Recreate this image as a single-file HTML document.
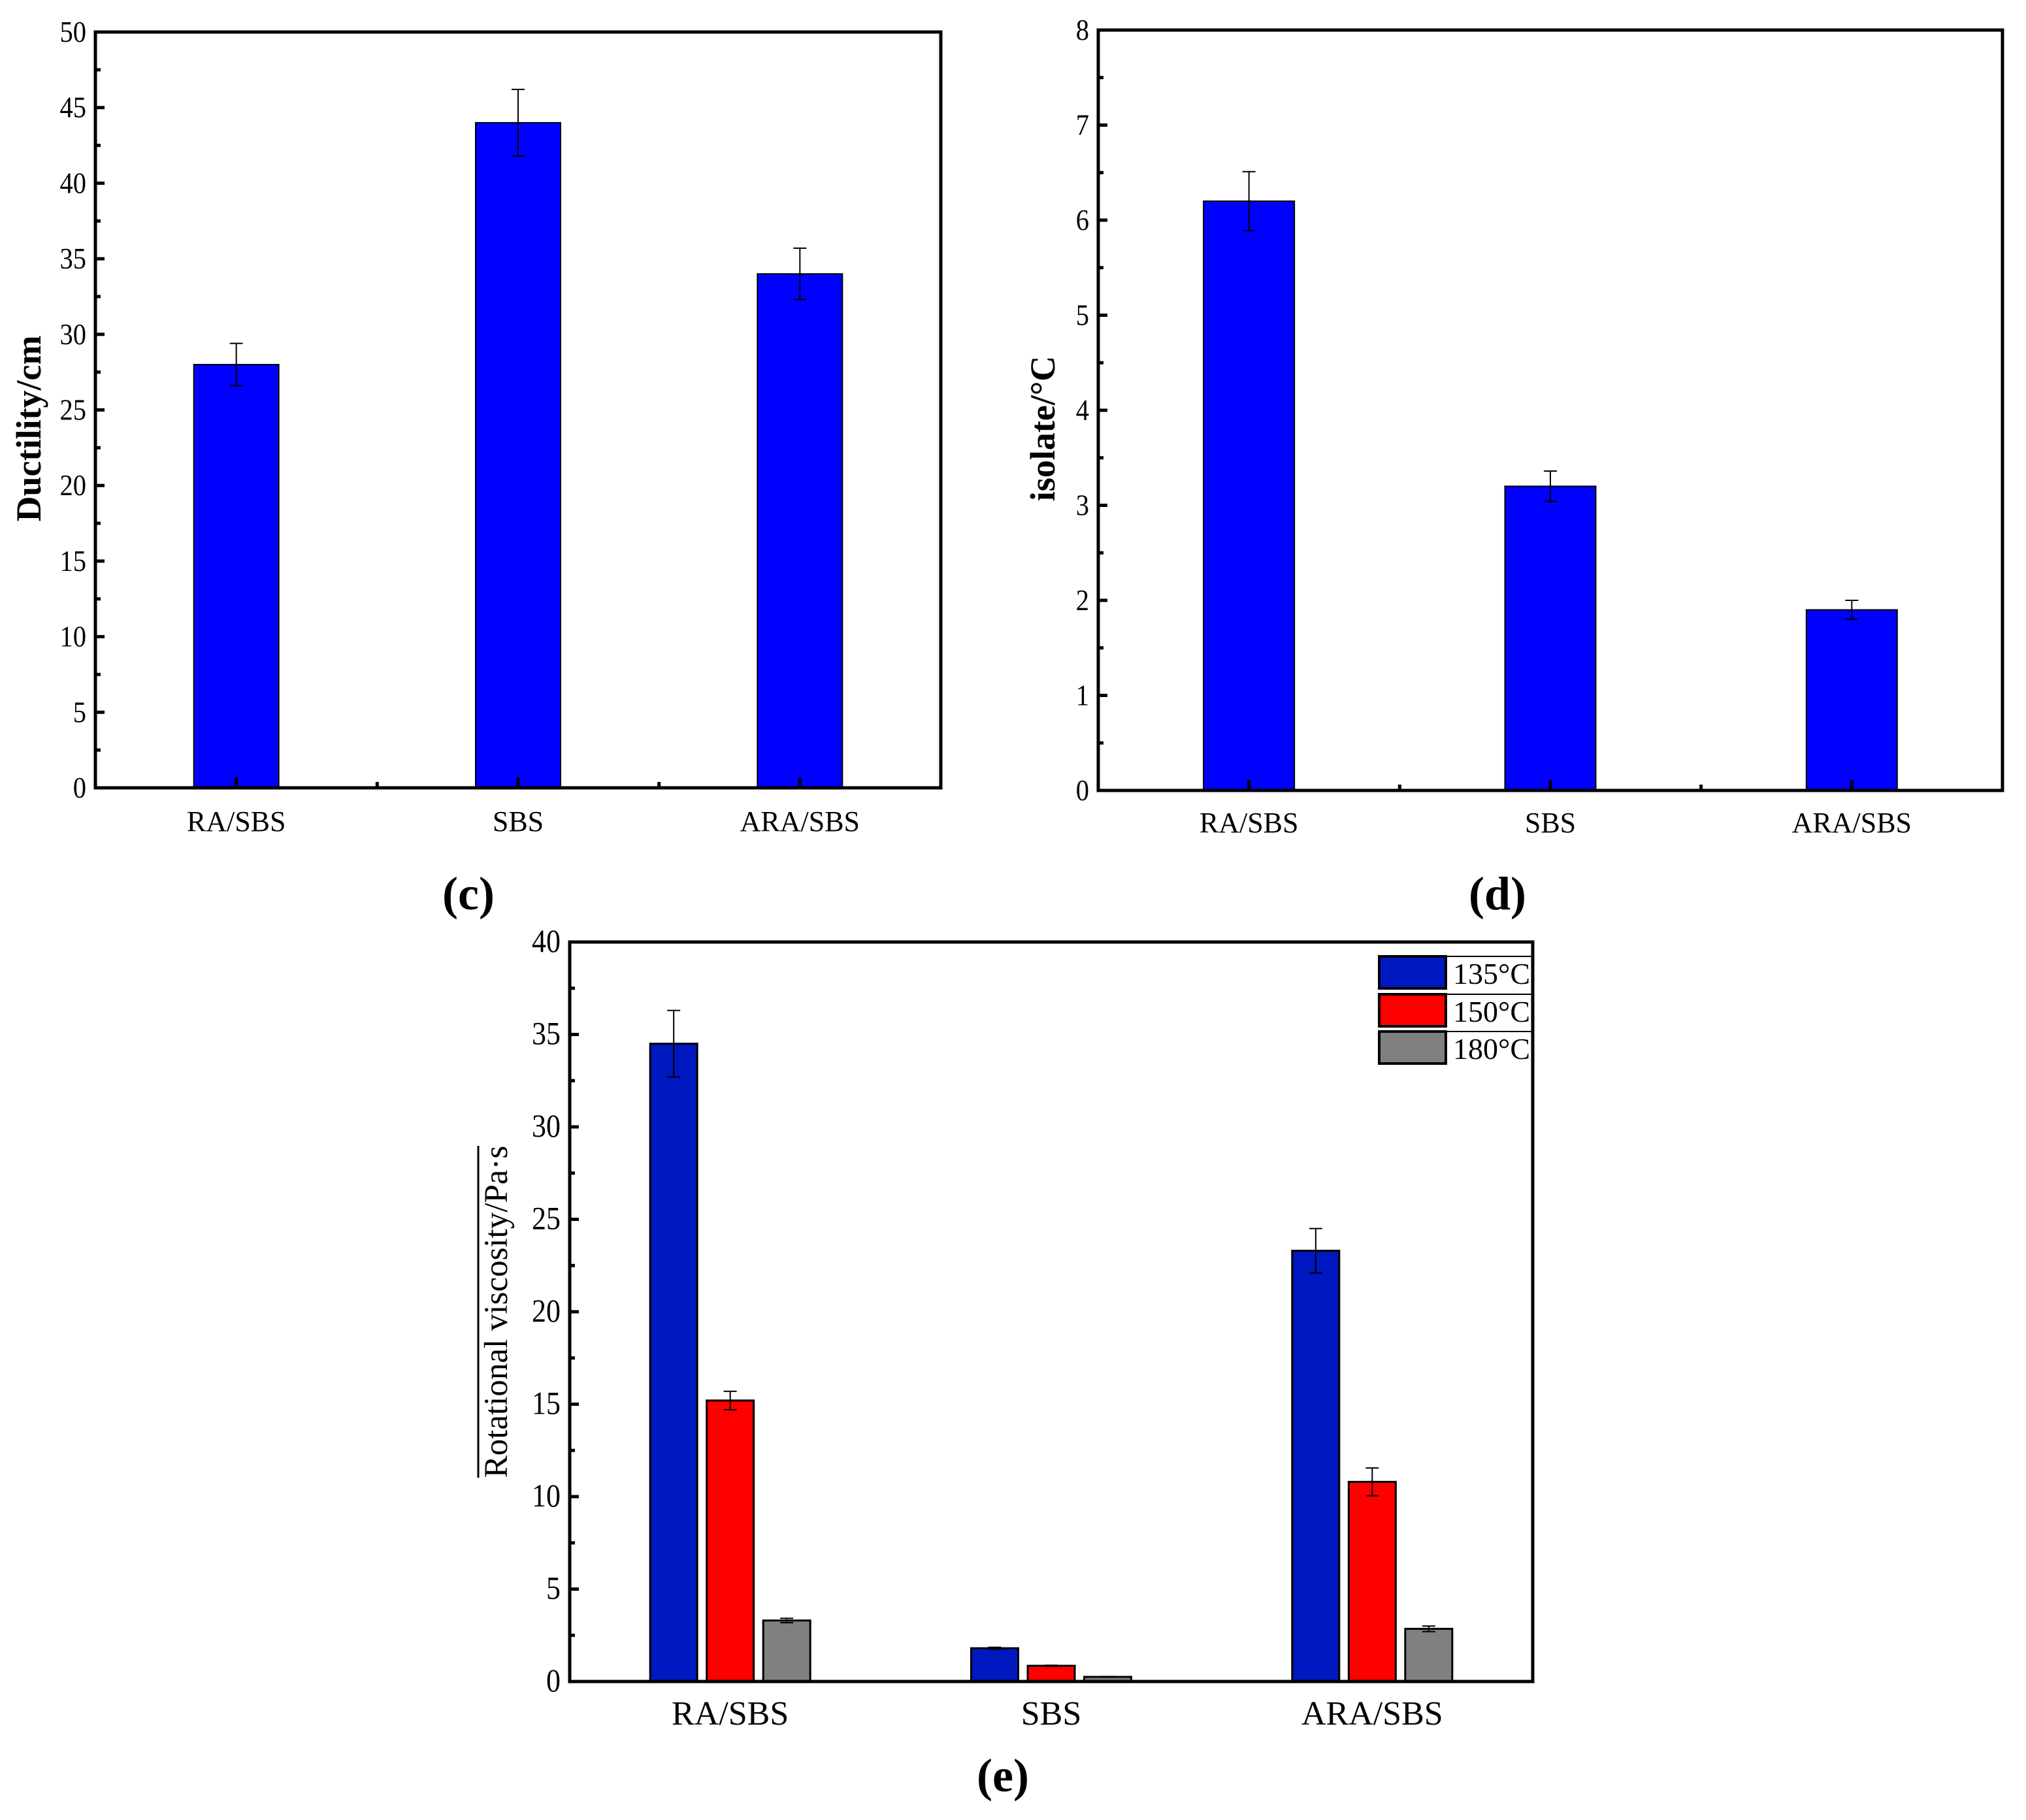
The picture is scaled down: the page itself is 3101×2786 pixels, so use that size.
<!DOCTYPE html>
<html><head><meta charset="utf-8"><style>
html,body{margin:0;padding:0;background:#fff;}
svg{display:block;font-family:"Liberation Serif",serif;}
</style></head><body>
<svg id="fig" width="3101" height="2786" viewBox="0 0 3101 2786" xmlns="http://www.w3.org/2000/svg"></svg>
<script>
const categories = ["RA/SBS","SBS","ARA/SBS"];
const ductilityValues = [28, 44, 34];
const ductilityErrors = [1.4, 2.2, 1.7];
const ductilityTicks = [0,5,10,15,20,25,30,35,40,45,50];
const isolateValues = [6.2, 3.2, 1.9];
const isolateErrors = [0.31, 0.16, 0.1];
const isolateTicks = [0,1,2,3,4,5,6,7,8];
const seriesNames = ["135°C","150°C","180°C"];
const visc135 = [34.5, 1.8, 23.3];
const visc150 = [15.2, 0.85, 10.8];
const visc180 = [3.3, 0.25, 2.85];
const err135 = [1.8, 0.05, 1.2];
const err150 = [0.5, 0.03, 0.75];
const err180 = [0.12, 0.02, 0.15];
const viscTicks = [0,5,10,15,20,25,30,35,40];

const NS="http://www.w3.org/2000/svg";
const svg=document.getElementById('fig');
function mk(tag,attrs,parent){const e=document.createElementNS(NS,tag);for(const k in attrs)e.setAttribute(k,attrs[k]);(parent||svg).appendChild(e);return e;}

function panel(o){
  const g=mk('g',{});
  
  
  const ymax=o.ticks[o.ticks.length-1];
  const ys=v=>o.y1-(v/ymax)*(o.y1-o.y0);
  const step=(o.x1-o.x0)/categories.length;
  const xs=i=>o.x0+step*(i+0.5);
  o.ticks.forEach((t,i)=>{
    const y=ys(t);
    const tk=mk('line',{x1:o.x0,x2:o.x0+14,y1:y,y2:y,stroke:'#000','stroke-width':5},g);
    
    
    const lb=mk('text',{x:o.x0-14,y:y+15,'text-anchor':'end','font-size':o.fs||46,'transform':`translate(${(o.x0-14)*0.12},0) scale(0.88,1)`},g);
    lb.textContent=t;
    
    
    if(i<o.ticks.length-1){
      const ym=ys((t+o.ticks[i+1])/2);
      const mt=mk('line',{x1:o.x0,x2:o.x0+8,y1:ym,y2:ym,stroke:'#000','stroke-width':5},g);
      
      
    }
  });
  o.series.forEach((s,si)=>{
    const n=o.series.length;
    s.vals.forEach((v,i)=>{
      const cx=xs(i)+(si-(n-1)/2)*o.bstep;
      const y=ys(v);
      const r=mk('rect',{x:cx-o.bw/2,y:y,width:o.bw,height:o.y1-y,fill:s.color,stroke:'#000','stroke-width':o.bstroke},g);
      
      
      const e=s.errs[i];
      const eg=mk('path',{d:`M${cx},${ys(v+e)}V${ys(v-e)}M${cx-10},${ys(v+e)}H${cx+10}M${cx-10},${ys(v-e)}H${cx+10}`,stroke:'#000','stroke-width':2,fill:'none'},g);
      
      
    });
  });
  const fr=mk('rect',{x:o.x0,y:o.y0,width:o.x1-o.x0,height:o.y1-o.y0,fill:'none',stroke:'#000','stroke-width':5},g);
  
  
  categories.forEach((c,i)=>{
    const x=xs(i);
    if(o.xticks){
      const t=mk('line',{x1:x,x2:x,y1:o.y1,y2:o.y1-16,stroke:'#000','stroke-width':5},g);
      
      
      if(i>0){const m=mk('line',{x1:o.x0+step*i,x2:o.x0+step*i,y1:o.y1,y2:o.y1-9,stroke:'#000','stroke-width':5},g);
        
        }
    }
    const lb=mk('text',{x:x,y:o.xly,'text-anchor':'middle','font-size':o.xfs||44},g);
    lb.textContent=c;
    
    
  });
  const yt=mk('text',{x:0,y:0,'text-anchor':'middle','font-size':o.tfs||56,'font-weight':o.tbold?'bold':'normal',transform:`translate(${o.tx},${o.ty}) rotate(-90)`},g);
  yt.textContent=o.title;
  
  
  const pl=mk('text',{x:o.px,y:o.py,'text-anchor':'middle','font-size':72,'font-weight':'bold'},g);
  pl.textContent=o.plabel;
  
  
  return {g,ys,xs};
}

panel({name:'ductility-chart',x0:146,x1:1440,y0:49,y1:1206,ticks:ductilityTicks,
  series:[{key:'d',vals:ductilityValues,errs:ductilityErrors,color:'#0000ff'}],bw:130,bstep:0,bstroke:2,
  xticks:true,xly:1272,title:'Ductility/cm',tx:62,ty:656,tbold:true,tfs:54,px:717,py:1392,plabel:'(c)'});
panel({name:'isolate-chart',x0:1681,x1:3065,y0:46,y1:1210,ticks:isolateTicks,
  series:[{key:'d',vals:isolateValues,errs:isolateErrors,color:'#0000ff'}],bw:139,bstep:0,bstroke:2,
  xticks:true,xly:1274,title:'isolate/°C',tx:1614,ty:656,tbold:true,tfs:54,px:2292,py:1392,plabel:'(d)'});
panel({name:'viscosity-chart',x0:872,x1:2346,y0:1442,y1:2574,ticks:viscTicks,
  series:[{key:'135',vals:visc135,errs:err135,color:'#0018bf'},{key:'150',vals:visc150,errs:err150,color:'#ff0000'},{key:'180',vals:visc180,errs:err180,color:'#808080'}],
  bw:72,bstep:86.5,bstroke:3,xticks:false,xly:2640,xfs:52,fs:50,title:'Rotational viscosity/Pa·s',tx:776,ty:2008,tfs:51,px:1535,py:2742,plabel:'(e)'});
const ol=mk('line',{x1:732,x2:732,y1:1754,y2:2262,stroke:'#000','stroke-width':3});


const lcol=['#0018bf','#ff0000','#808080'];
const lys=[1464,1522,1579];
seriesNames.forEach((s,i)=>{
  const lg=mk('g',{});
  
  
  mk('rect',{x:2111,y:lys[i],width:102,height:49,fill:lcol[i],stroke:'#000','stroke-width':4},lg);
  mk('line',{x1:2213,x2:2346,y1:lys[i],y2:lys[i],stroke:'#000','stroke-width':2},lg);
  const t=mk('text',{x:2224,y:lys[i]+42,'font-size':46},lg);
  t.textContent=s;
});
</script>
</body></html>
